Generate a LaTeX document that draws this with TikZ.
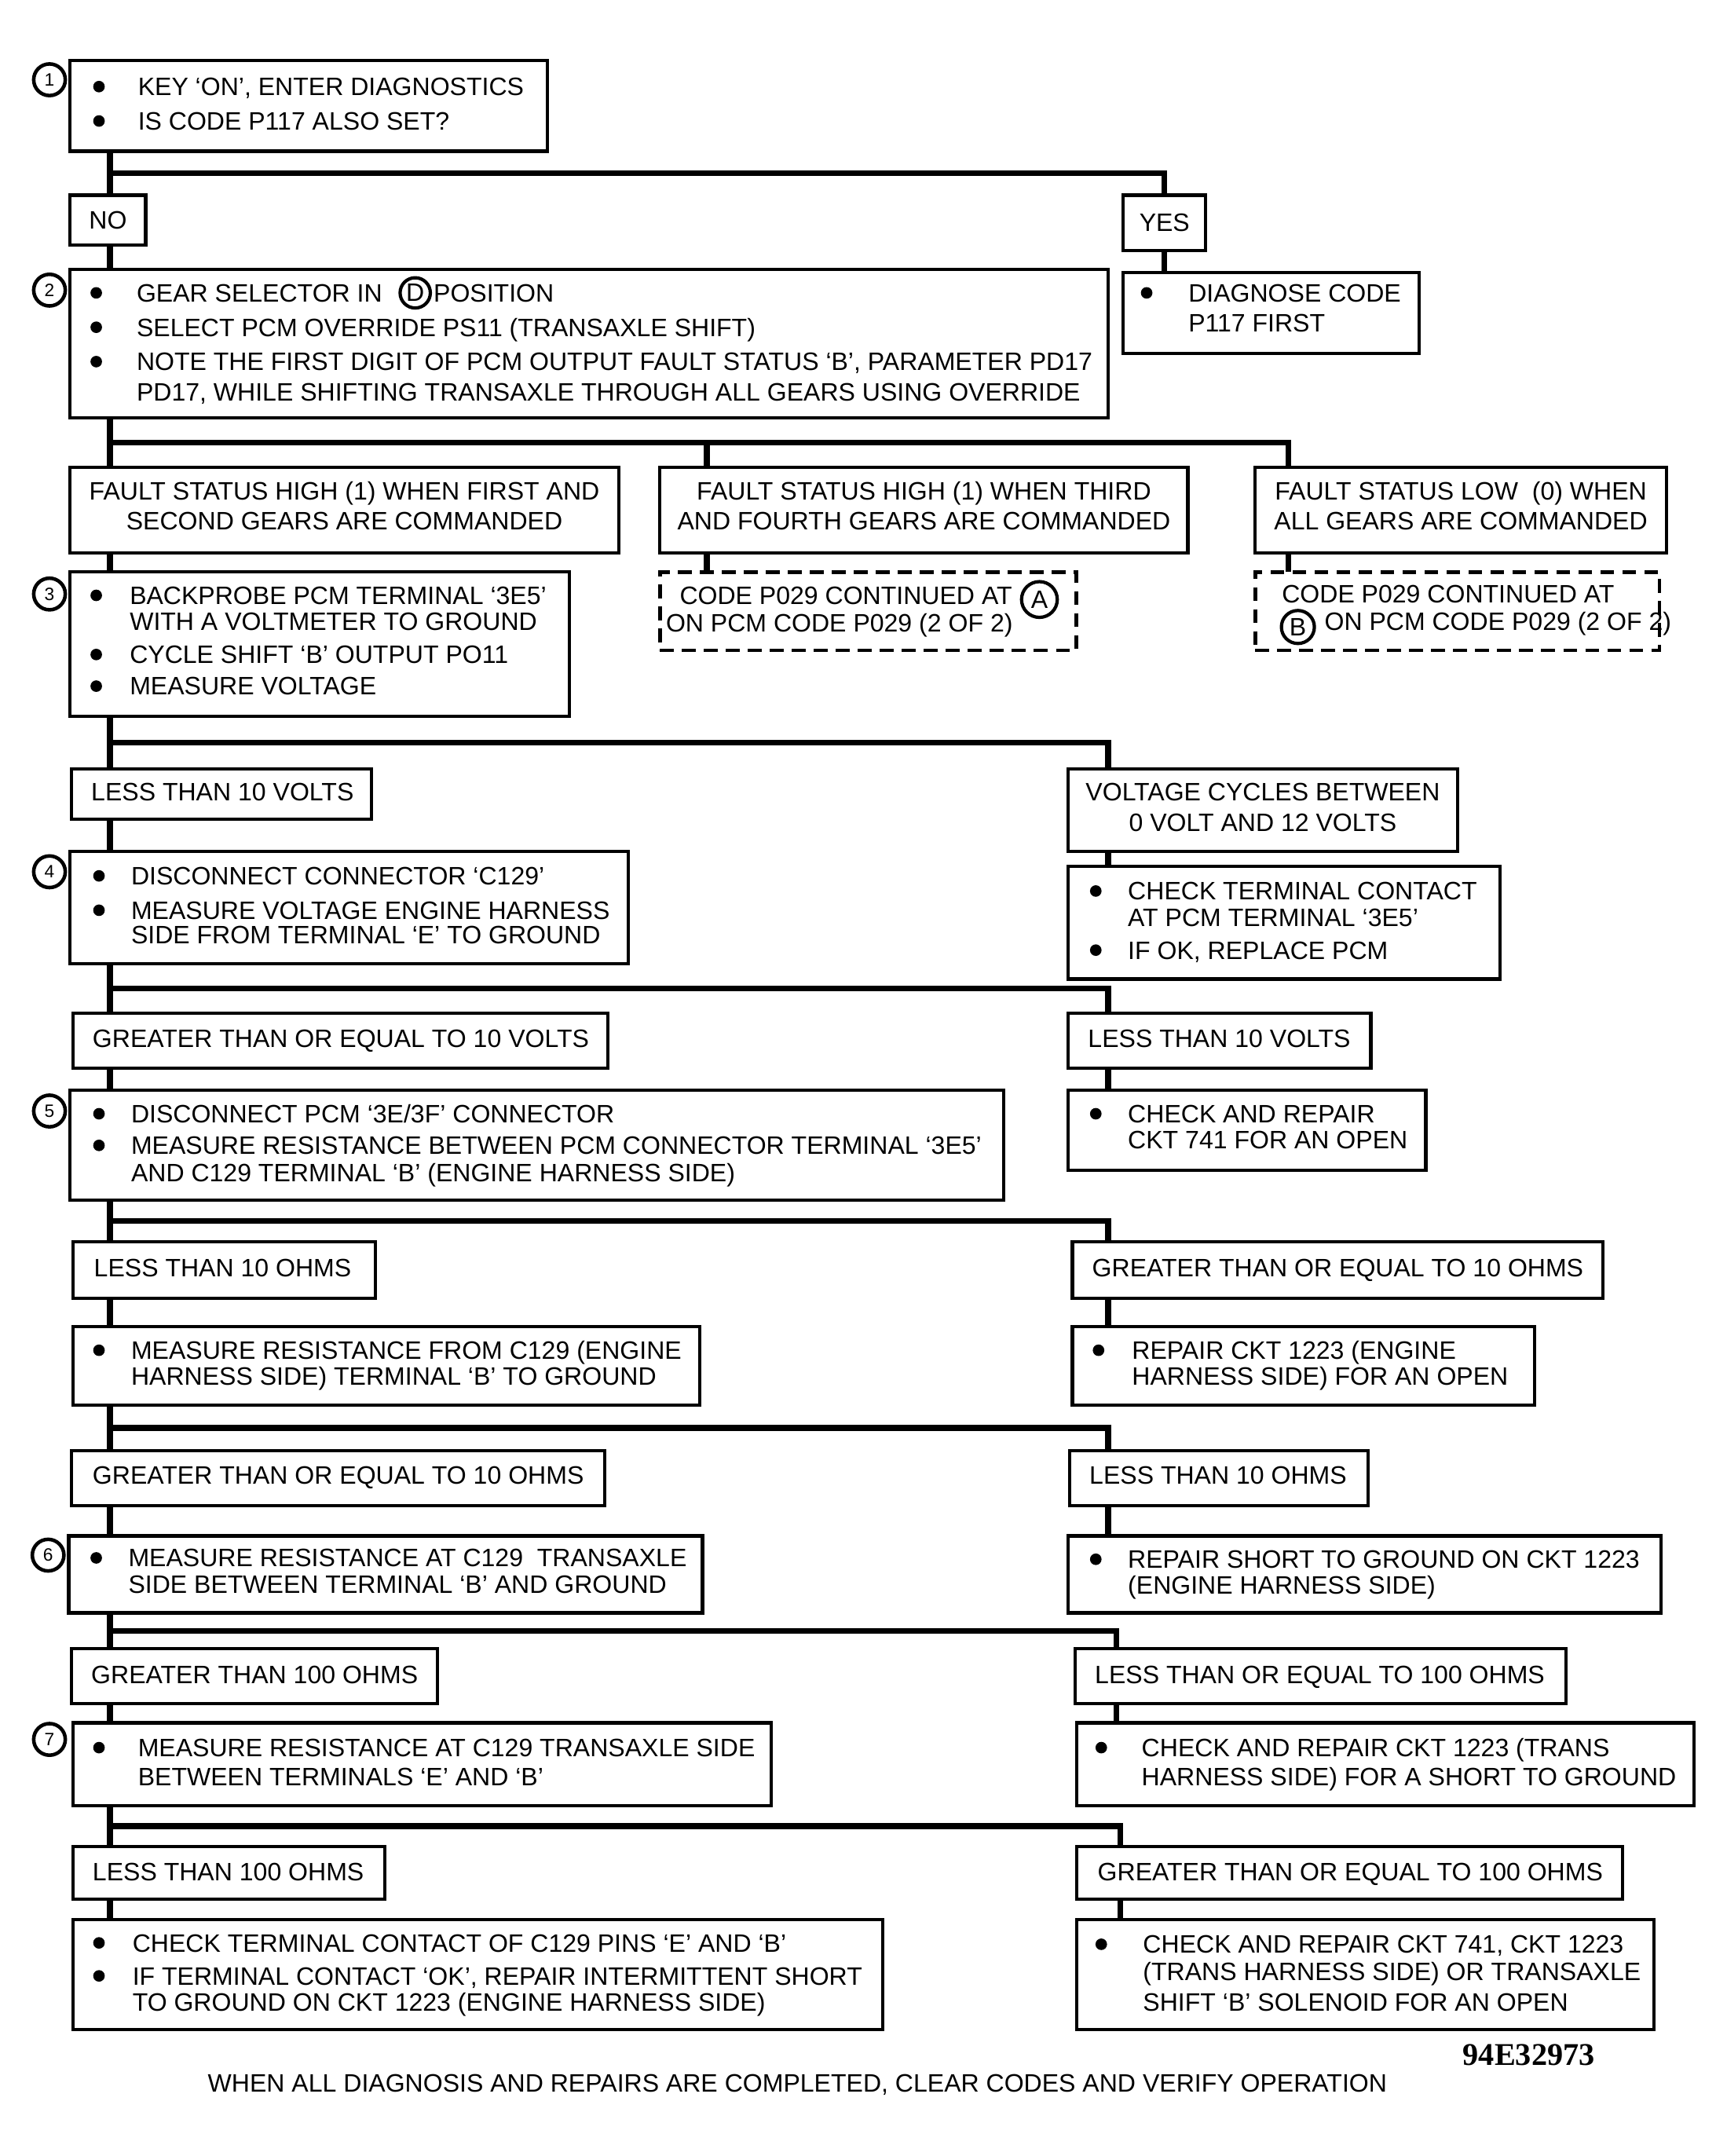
\documentclass[tikz,border=0pt]{standalone}
\usepackage{fontspec}
\setmainfont{Liberation Sans}
\newfontfamily\serifb{Liberation Serif}
\usetikzlibrary{calc}
\newcommand\fs{\fontsize{9.15}{11}\selectfont}
\tikzset{
  box/.style={draw, line width=1.2pt, rectangle, inner sep=0pt, outer sep=0pt},
  dbox/.style={draw, line width=1.3pt, dash pattern=on 5pt off 3pt, rectangle, inner sep=0pt, outer sep=0pt},
  txt/.style={anchor=base west, inner sep=0pt, font=\fs},
  ctxt/.style={anchor=base, inner sep=0pt, font=\fs},
  conn/.style={line width=2.1pt, line join=miter},
  num/.style={draw, circle, line width=1.3pt, minimum size=11.5pt, inner sep=0pt, font=\fontsize{6.5}{6.5}\selectfont},
  letc/.style={draw, circle, line width=1.2pt, inner sep=0pt, font=\fs},
}
\newcommand\bx[6][box]{\node[#1, minimum width={(#5-#3)*0.5pt}, minimum height={(#6-#4)*0.5pt}] (#2) at ({(#3+#5)/2},{(#4+#6)/2}) {};}
\newcommand\tl[4]{\node[txt] (#1) at (#2,{#3+6.5}) {#4};}
\newcommand\ct[4]{\node[ctxt] (#1) at (#2,{#3+6.5}) {#4};}
\newcommand\bu[2]{\fill (#1,#2) circle (2.1pt);}
\newcommand\branch[4]{%
  \draw[conn] (#1.south -| L) -- (#2.north -| L);
  \draw[conn] ($(#1.south -| L)!.5!(#2.north -| L)$) -| (#3.north -| #4);}
\newcommand\link[3]{\draw[conn] (#1.south -| #3) -- (#2.north -| #3);}
\begin{document}
\begin{tikzpicture}[x=0.5pt,y=-0.5pt]
\fill[white] (0,0) rectangle (1256,1568);
\useasboundingbox (0,0) rectangle (1256,1568);
\coordinate (L) at (80,0);
\coordinate (X2) at (514,0);
\coordinate (X3) at (937,0);
\coordinate (R1) at (806,0);
\coordinate (R2) at (806,0);
\coordinate (R3) at (812,0);
\coordinate (R4) at (815,0);

% ---------- boxes ----------
\bx{b1}{51}{44}{398}{110}
\bx{no}{51}{142}{106}{178}
\bx{yes}{817}{142}{877}{182}
\bx{b2}{51}{196}{806}{304}
\bx{diag}{817}{198}{1032}{257}
\bx{fs1}{51}{340}{450}{402}
\bx{fs2}{480}{340}{864}{402}
\bx{fs3}{913}{340}{1212}{402}
\bx[dbox]{da}{480}{416}{783}{473}
\bx[dbox]{db}{913}{416}{1207}{473}
\bx{b3}{51}{416}{414}{521}
\bx{lt10v}{52}{559}{270}{596}
\bx{vc}{777}{559}{1060}{619}
\bx{b4}{51}{619}{457}{701}
\bx{ctc}{777}{630}{1091}{712}
\bx{ge10v}{53}{737}{442}{777}
\bx{lt10vb}{777}{737}{997}{777}
\bx{b5}{51}{793}{730}{873}
\bx{cr741}{777}{793}{1037}{851}
\bx{lt10o}{53}{903}{273}{944}
\bx{ge10o}{780}{903}{1166}{944}
\bx{mr}{53}{965}{509}{1022}
\bx{rc1223}{780}{965}{1116}{1022}
\bx{ge10ob}{52}{1055}{440}{1095}
\bx{lt10ob}{778}{1055}{995}{1095}
\bx{b6}{50}{1117}{511}{1173}
\bx{rs}{777}{1117}{1208}{1173}
\bx{gt100}{52}{1199}{318}{1239}
\bx{le100}{782}{1199}{1139}{1239}
\bx{b7}{53}{1253}{561}{1313}
\bx{crt}{783}{1253}{1232}{1313}
\bx{lt100}{53}{1343}{280}{1381}
\bx{ge100}{783}{1343}{1180}{1381}
\bx{fl}{53}{1396}{642}{1476}
\bx{fr}{783}{1396}{1203}{1476}

% ---------- connectors ----------
\draw[conn] (b1.south -| L) -- (no.north -| L);
\draw[conn] ($(b1.south -| L)!.5!(no.north -| L)$) -| (yes.north);
\draw[conn] (no.south -| L) -- (b2.north -| L);
\draw[conn] (yes.south) -- (yes.south |- diag.north);
\branch{b2}{fs1}{fs3}{X3}
\draw[conn] ($(b2.south -| X2)!.5!(fs2.north -| X2)$) -- (fs2.north -| X2);
\link{fs2}{da}{X2}
\link{fs3}{db}{X3}
\link{fs1}{b3}{L}
\branch{b3}{lt10v}{vc}{R1}
\link{lt10v}{b4}{L}
\link{vc}{ctc}{R1}
\branch{b4}{ge10v}{lt10vb}{R1}
\link{ge10v}{b5}{L}
\link{lt10vb}{cr741}{R1}
\branch{b5}{lt10o}{ge10o}{R2}
\link{lt10o}{mr}{L}
\link{ge10o}{rc1223}{R2}
\branch{mr}{ge10ob}{lt10ob}{R2}
\link{ge10ob}{b6}{L}
\link{lt10ob}{rs}{R2}
\branch{b6}{gt100}{le100}{R3}
\link{gt100}{b7}{L}
\link{le100}{crt}{R3}
\branch{b7}{lt100}{ge100}{R4}
\link{lt100}{fl}{L}
\link{ge100}{fr}{R4}

% ---------- step numbers ----------
\node[num] (n1) at (36,58) {1};
\node[num] (n2) at (36,211) {2};
\node[num] (n3) at (36,432) {3};
\node[num] (n4) at (36,634) {4};
\node[num] (n5) at (36,808) {5};
\node[num] (n6) at (35,1131) {6};
\node[num] (n7) at (36,1265) {7};

% ---------- texts ----------
\bu{72}{63}\tl{t1a}{100}{63}{KEY ‘ON’, ENTER DIAGNOSTICS}
\bu{72}{88}\tl{t1b}{100}{88}{IS CODE P117 ALSO SET?}
\ct{tno}{78.5}{160}{NO}
\ct{tyes}{847}{162}{YES}

\bu{70}{213}\tl{t2a}{99}{213}{GEAR SELECTOR IN}
\node[letc, minimum size=11pt] (cD) at (302,213) {D};
\tl{t2b}{315}{213}{POSITION}
\bu{70}{238}\tl{t2c}{99}{238}{SELECT PCM OVERRIDE PS11 (TRANSAXLE SHIFT)}
\bu{70}{263}\tl{t2d}{99}{263}{NOTE THE FIRST DIGIT OF PCM OUTPUT FAULT STATUS ‘B’, PARAMETER PD17}
\tl{t2e}{99}{285}{PD17, WHILE SHIFTING TRANSAXLE THROUGH ALL GEARS USING OVERRIDE}

\bu{834}{213}\tl{tdga}{864}{213}{DIAGNOSE CODE}
\tl{tdgb}{864}{235}{P117 FIRST}

\ct{tf1a}{250.5}{357}{FAULT STATUS HIGH (1) WHEN FIRST AND}
\ct{tf1b}{250.5}{379}{SECOND GEARS ARE COMMANDED}
\ct{tf2a}{672}{357}{FAULT STATUS HIGH (1) WHEN THIRD}
\ct{tf2b}{672}{379}{AND FOURTH GEARS ARE COMMANDED}
\ct{tf3a}{1062.5}{357}{FAULT STATUS LOW\ \ (0) WHEN}
\ct{tf3b}{1062.5}{379}{ALL GEARS ARE COMMANDED}

\tl{tdaa}{494}{433}{CODE P029 CONTINUED AT}
\node[letc, minimum size=13pt] (cA) at (756,436) {A};
\tl{tdab}{484}{453}{ON PCM CODE P029 (2 OF 2)}
\tl{tdba}{932}{432}{CODE P029 CONTINUED AT}
\node[letc, minimum size=12pt] (cB) at (944,456) {B};
\tl{tdbb}{963}{452}{ON PCM CODE P029 (2 OF 2)}

\bu{70}{433}\tl{t3a}{94}{433}{BACKPROBE PCM TERMINAL ‘3E5’}
\tl{t3b}{94}{452}{WITH A VOLTMETER TO GROUND}
\bu{70}{476}\tl{t3c}{94}{476}{CYCLE SHIFT ‘B’ OUTPUT PO11}
\bu{70}{499}\tl{t3d}{94}{499}{MEASURE VOLTAGE}

\tl{tlt10v}{66}{576}{LESS THAN 10 VOLTS}
\ct{tvca}{918.5}{576}{VOLTAGE CYCLES BETWEEN}
\ct{tvcb}{918.5}{598}{0 VOLT AND 12 VOLTS}

\bu{72}{637}\tl{t4a}{95}{637}{DISCONNECT CONNECTOR ‘C129’}
\bu{72}{662}\tl{t4b}{95}{662}{MEASURE VOLTAGE ENGINE HARNESS}
\tl{t4c}{95}{680}{SIDE FROM TERMINAL ‘E’ TO GROUND}

\bu{797}{648}\tl{tca}{820}{648}{CHECK TERMINAL CONTACT}
\tl{tcb}{820}{667}{AT PCM TERMINAL ‘3E5’}
\bu{797}{691}\tl{tcc}{820}{691}{IF OK, REPLACE PCM}

\tl{tge10v}{67}{755}{GREATER THAN OR EQUAL TO 10 VOLTS}
\tl{tlt10vb}{791}{755}{LESS THAN 10 VOLTS}

\bu{72}{810}\tl{t5a}{95}{810}{DISCONNECT PCM ‘3E/3F’ CONNECTOR}
\bu{72}{833}\tl{t5b}{95}{833}{MEASURE RESISTANCE BETWEEN PCM CONNECTOR TERMINAL ‘3E5’}
\tl{t5c}{95}{853}{AND C129 TERMINAL ‘B’ (ENGINE HARNESS SIDE)}

\bu{797}{810}\tl{tcra}{820}{810}{CHECK AND REPAIR}
\tl{tcrb}{820}{829}{CKT 741 FOR AN OPEN}

\tl{tlt10o}{68}{922}{LESS THAN 10 OHMS}
\tl{tge10o}{794}{922}{GREATER THAN OR EQUAL TO 10 OHMS}

\bu{72}{982}\tl{tmra}{95}{982}{MEASURE RESISTANCE FROM C129 (ENGINE}
\tl{tmrb}{95}{1001}{HARNESS SIDE) TERMINAL ‘B’ TO GROUND}
\bu{799}{982}\tl{trca}{823}{982}{REPAIR CKT 1223 (ENGINE}
\tl{trcb}{823}{1001}{HARNESS SIDE) FOR AN OPEN}

\tl{tge10ob}{67}{1073}{GREATER THAN OR EQUAL TO 10 OHMS}
\tl{tlt10ob}{792}{1073}{LESS THAN 10 OHMS}

\bu{70}{1133}\tl{t6a}{93}{1133}{MEASURE RESISTANCE AT C129\ \ TRANSAXLE}
\tl{t6b}{93}{1152}{SIDE BETWEEN TERMINAL ‘B’ AND GROUND}
\bu{797}{1134}\tl{trsa}{820}{1134}{REPAIR SHORT TO GROUND ON CKT 1223}
\tl{trsb}{820}{1153}{(ENGINE HARNESS SIDE)}

\tl{tgt100}{66}{1218}{GREATER THAN 100 OHMS}
\tl{tle100}{796}{1218}{LESS THAN OR EQUAL TO 100 OHMS}

\bu{72}{1271}\tl{t7a}{100}{1271}{MEASURE RESISTANCE AT C129 TRANSAXLE SIDE}
\tl{t7b}{100}{1292}{BETWEEN TERMINALS ‘E’ AND ‘B’}
\bu{801}{1271}\tl{tcta}{830}{1271}{CHECK AND REPAIR CKT 1223 (TRANS}
\tl{tctb}{830}{1292}{HARNESS SIDE) FOR A SHORT TO GROUND}

\tl{tlt100}{67}{1361}{LESS THAN 100 OHMS}
\tl{tge100}{798}{1361}{GREATER THAN OR EQUAL TO 100 OHMS}

\bu{72}{1413}\tl{tfla}{96}{1413}{CHECK TERMINAL CONTACT OF C129 PINS ‘E’ AND ‘B’}
\bu{72}{1437}\tl{tflb}{96}{1437}{IF TERMINAL CONTACT ‘OK’, REPAIR INTERMITTENT SHORT}
\tl{tflc}{96}{1456}{TO GROUND ON CKT 1223 (ENGINE HARNESS SIDE)}
\bu{801}{1414}\tl{tfra}{831}{1414}{CHECK AND REPAIR CKT 741, CKT 1223}
\tl{tfrb}{831}{1434}{(TRANS HARNESS SIDE) OR TRANSAXLE}
\tl{tfrc}{831}{1456}{SHIFT ‘B’ SOLENOID FOR AN OPEN}

\ct{foot}{580}{1515}{WHEN ALL DIAGNOSIS AND REPAIRS ARE COMPLETED, CLEAR CODES AND VERIFY OPERATION}
\node[anchor=base, inner sep=0pt, font=\serifb\bfseries\fontsize{11.5}{13}\selectfont] (code) at (1112,1502) {94E32973};
\end{tikzpicture}
\end{document}
